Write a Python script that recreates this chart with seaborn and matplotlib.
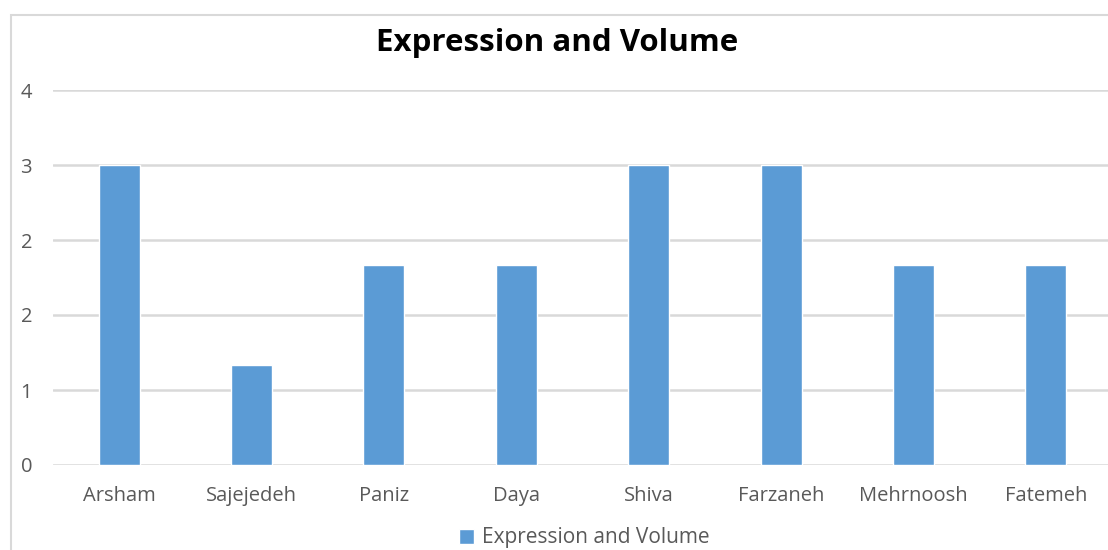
import matplotlib
matplotlib.use("Agg")
import matplotlib.pyplot as plt
from matplotlib.ticker import FuncFormatter, MultipleLocator
from matplotlib.patches import Rectangle
import seaborn as sns
import pandas as pd

names = ["Arsham", "Sajejedeh", "Paniz", "Daya", "Shiva", "Farzaneh", "Mehrnoosh", "Fatemeh"]
scores = [3, 1, 2, 2, 3, 3, 2, 2]
series_name = "Expression and Volume"

df = pd.DataFrame({"name": names, "score": scores, "series": series_name})

sns.set_theme(style="white")
plt.rcParams["font.family"] = ["Open Sans", "DejaVu Sans"]

grey_text = "#595959"
grid_col = "#d9d9d9"
bar_col = "#5B9BD5"

fig = plt.figure(figsize=(11.08, 5.5), dpi=100)
ax = fig.add_axes([53 / 1108, 1 - 465 / 550, (1112 - 53) / 1108, (465 - 90) / 550])

sns.barplot(data=df, x="name", y="score", hue="series", palette=[bar_col],
            width=0.31, dodge=False, ax=ax, saturation=1)

ax.set_ylim(0, 3.75)
ax.set_xlim(-0.5, len(names) - 0.5)
ax.yaxis.set_major_locator(MultipleLocator(0.75))
ax.yaxis.set_major_formatter(FuncFormatter(lambda v, p: f"{v:.0f}"))
ax.grid(axis="y", color=grid_col, lw=1.8)
ax.set_axisbelow(True)
for s in ax.spines.values():
    s.set_visible(False)
ax.tick_params(axis="both", length=0, labelsize=14.5, labelcolor=grey_text)
ax.tick_params(axis="y", pad=15)
ax.tick_params(axis="x", pad=15)
ax.set_xlabel("")
ax.set_ylabel("")

fig.text(0.503, 1 - 43 / 550, series_name, ha="center", va="center",
         fontsize=22.5, fontweight="bold", color="black")

sns.move_legend(ax, "center", bbox_to_anchor=(0.527, 1 - 538 / 550),
                bbox_transform=fig.transFigure, frameon=False, title=None,
                fontsize=15, handlelength=0.75, handleheight=0.75, handletextpad=0.35)
for t in ax.get_legend().get_texts():
    t.set_color(grey_text)

# chart frame
fig.patches.append(Rectangle((11 / 1108, -0.1), 1.2, 0.1 + (1 - 15 / 550),
                             transform=fig.transFigure, fill=False,
                             edgecolor=grid_col, lw=1.5, zorder=0))

fig.savefig("out.png", dpi=100)
